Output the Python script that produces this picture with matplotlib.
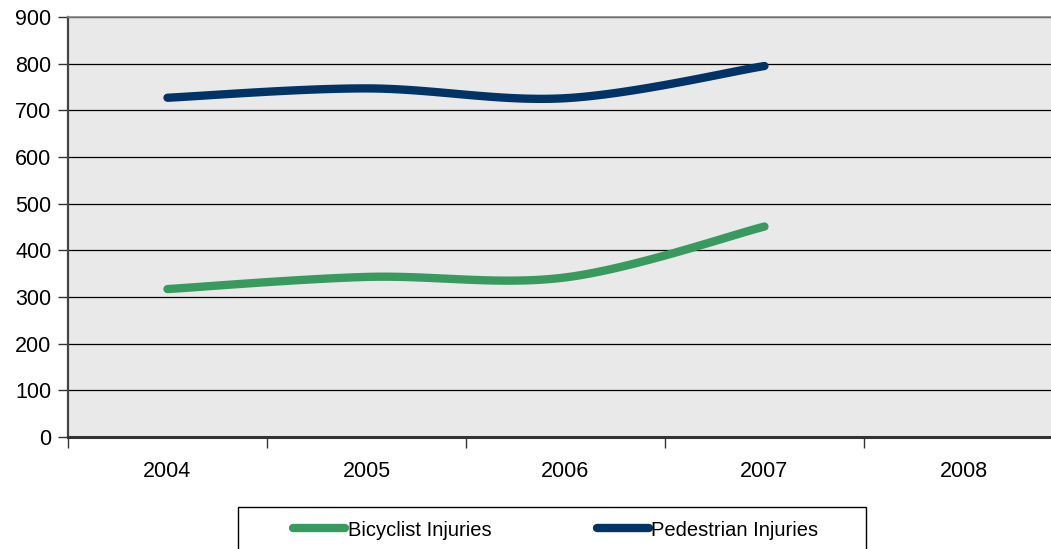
import matplotlib.pyplot as plt
import numpy as np
from matplotlib.patches import Rectangle

years = ["2004", "2005", "2006", "2007", "2008"]
bicyclist = [317, 343, 342, 451]
pedestrian = [727, 747, 726, 795]
y_ticks = [0, 100, 200, 300, 400, 500, 600, 700, 800, 900]

green = "#389a5e"
navy = "#003366"

plt.rcParams['font.family'] = ['Liberation Sans', 'DejaVu Sans']


def smooth(xs, ys, n=40):
    # cubic bezier through the points, tangents from neighbours (spreadsheet style smoothing)
    xs = np.asarray(xs, float)
    ys = np.asarray(ys, float)
    px, py = [], []
    for i in range(len(xs) - 1):
        x0, y0 = xs[max(i - 1, 0)], ys[max(i - 1, 0)]
        x1, y1 = xs[i], ys[i]
        x2, y2 = xs[i + 1], ys[i + 1]
        x3, y3 = xs[min(i + 2, len(xs) - 1)], ys[min(i + 2, len(ys) - 1)]
        c1x, c1y = x1 + (x2 - x0) / 6, y1 + (y2 - y0) / 6
        c2x, c2y = x2 - (x3 - x1) / 6, y2 - (y3 - y1) / 6
        t = np.linspace(0, 1, n)
        px.append((1 - t) ** 3 * x1 + 3 * (1 - t) ** 2 * t * c1x + 3 * (1 - t) * t ** 2 * c2x + t ** 3 * x2)
        py.append((1 - t) ** 3 * y1 + 3 * (1 - t) ** 2 * t * c1y + 3 * (1 - t) * t ** 2 * c2y + t ** 3 * y2)
    return np.concatenate(px), np.concatenate(py)


fig = plt.figure(figsize=(10.51, 5.49), dpi=100)
ax = fig.add_axes([68 / 1051, 1 - 437 / 549, 983 / 1051, 420 / 549])
ax.set_facecolor("#e9e9e9")

centers = np.arange(len(bicyclist)) + 0.5
bx, by = smooth(centers, bicyclist)
px, py = smooth(centers, pedestrian)
ax.plot(bx, by, color=green, lw=6, solid_capstyle="round", label="Bicyclist Injuries", zorder=3)
ax.plot(px, py, color=navy, lw=6, solid_capstyle="round", label="Pedestrian Injuries", zorder=3)

ax.set_xlim(0, 4.94)
ax.set_ylim(0, 900)
ax.set_yticks(y_ticks)
ax.yaxis.grid(True, color="black", lw=0.9)
ax.set_axisbelow(True)

# category boundaries as major ticks, names centred in each bin
ax.set_xticks(range(len(years)))
ax.set_xticklabels([])
ax.set_xticks(np.arange(len(years)) + 0.5, minor=True)
ax.set_xticklabels(years, minor=True)
ax.tick_params(axis="x", which="major", length=8, width=1, color="#333333", direction="out")
ax.tick_params(axis="x", which="minor", length=0, pad=17, labelsize=15.5)
ax.tick_params(axis="y", length=7, width=1, color="#333333", direction="out", pad=5, labelsize=15.5)

ax.spines["left"].set_color("#444444")
ax.spines["left"].set_linewidth(1.6)
ax.spines["bottom"].set_color("#333333")
ax.spines["bottom"].set_linewidth(2.2)
ax.spines["top"].set_color("#888888")
ax.spines["top"].set_linewidth(1.2)
ax.spines["right"].set_visible(False)

# legend box running off the bottom edge
fig.patches.append(Rectangle((238 / 1051, -0.05), 628 / 1051, (549 - 507) / 549 + 0.05,
                             transform=fig.transFigure, facecolor="white",
                             edgecolor="black", lw=1.0))
leg = fig.legend(loc="center left", bbox_to_anchor=(275 / 1051, 1 - 530 / 549), ncol=2,
                 frameon=False, handlelength=2.6, handletextpad=0.1, columnspacing=5.25,
                 prop={"size": 14.5})
for h in leg.get_lines():
    h.set_solid_capstyle("round")

fig.savefig("out.png", dpi=100)
